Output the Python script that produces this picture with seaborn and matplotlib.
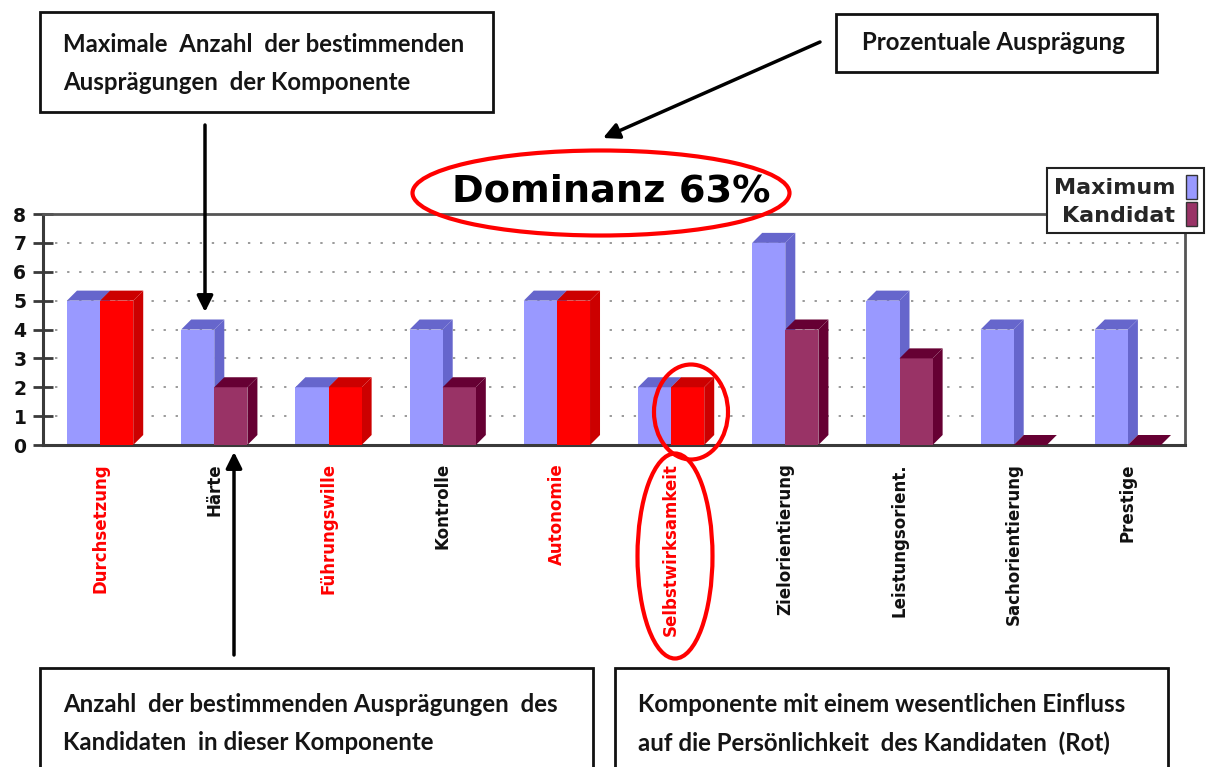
import numpy as np
import pandas as pd
import matplotlib
matplotlib.use("Agg")
import matplotlib.pyplot as plt
import seaborn as sns
from matplotlib.patches import Polygon, Rectangle, Ellipse, Patch

# ---------------- data ----------------
categories = ["Durchsetzung", "Härte", "Führungswille", "Kontrolle", "Autonomie",
              "Selbstwirksamkeit", "Zielorientierung", "Leistungsorient.",
              "Sachorientierung", "Prestige"]
maximum = [5, 4, 2, 4, 5, 2, 7, 5, 4, 4]
kandidat = [5, 2, 2, 2, 5, 2, 4, 3, 0, 0]
highlight = [True, False, True, False, True, True, False, False, False, False]
series_names = ["Maximum", "Kandidat"]
y_ticks = [0, 1, 2, 3, 4, 5, 6, 7, 8]
title_text = "Dominanz 63%"
box1_lines = ["Maximale  Anzahl  der bestimmenden", "Ausprägungen  der Komponente"]
box2_lines = ["Prozentuale Ausprägung"]
box3_lines = ["Anzahl  der bestimmenden Ausprägungen  des", "Kandidaten  in dieser Komponente"]
box4_lines = ["Komponente mit einem wesentlichen Einfluss", "auf die Persönlichkeit  des Kandidaten  (Rot)"]

# ---------------- style ----------------
sns.set_theme(style="white")
plt.rcParams["font.family"] = ["DejaVu Sans"]

W, H = 1208, 767
fig = plt.figure(figsize=(W / 100, H / 100), dpi=100)
fig.patch.set_facecolor("white")

ax_l, ax_r, ax_t, ax_b = 43, 1185, 214, 445
ax = fig.add_axes([ax_l / W, 1 - ax_b / H, (ax_r - ax_l) / W, (ax_b - ax_t) / H])

df = pd.DataFrame({
    "Komponente": categories * 2,
    "Wert": maximum + kandidat,
    "Serie": [series_names[0]] * len(categories) + [series_names[1]] * len(categories),
})

front_max, dark_max = "#9999FF", "#6666CC"
front_kan, dark_kan = "#993366", "#660033"
front_red, dark_red = "#FF0000", "#CC0000"

sns.barplot(data=df, x="Komponente", y="Wert", hue="Serie", order=categories,
            hue_order=series_names,
            palette={series_names[0]: front_max, series_names[1]: front_kan},
            width=0.58, gap=0, saturation=1, legend=False, errorbar=None,
            linewidth=0, ax=ax)

ax.set_xlim(-0.5, len(categories) - 0.5)
ax.set_ylim(0, 8)

# pixel -> data units for 3D depth
ppx = (ax_r - ax_l) / len(categories)
ppy = (ax_b - ax_t) / 8
dxu, dyu = 10 / ppx, 10 / ppy

for ci, cont in enumerate(ax.containers):
    for bi, bar in enumerate(cont.patches):
        x0 = bar.get_x()
        w = bar.get_width()
        h = bar.get_height()
        x1 = x0 + w
        if ci == 0:
            fc, dc, z = front_max, dark_max, 2
        else:
            if highlight[bi]:
                fc, dc = front_red, dark_red
            else:
                fc, dc = front_kan, dark_kan
            z = 3
        bar.set_facecolor(fc)
        bar.set_edgecolor("none")
        bar.set_zorder(z)
        top = Polygon([(x0, h), (x0 + dxu, h + dyu), (x1 + dxu, h + dyu), (x1, h)],
                      closed=True, facecolor=dc, edgecolor="none", zorder=z)
        side = Polygon([(x1, 0), (x1 + dxu, dyu), (x1 + dxu, h + dyu), (x1, h)],
                       closed=True, facecolor=dc, edgecolor="none", zorder=z - 0.1)
        ax.add_patch(side)
        ax.add_patch(top)

# grid
for yv in y_ticks[1:-1]:
    ax.axhline(yv, color="#9a9a9a", lw=1.4, ls=(0, (1.2, 5)), zorder=0.5)

# spines
for s in ["left", "bottom"]:
    ax.spines[s].set_color("#3a3a3a")
    ax.spines[s].set_linewidth(2.2)
for s in ["top", "right"]:
    ax.spines[s].set_color("#555555")
    ax.spines[s].set_linewidth(2.0)

# ticks
ax.set_xticks(range(len(categories)))
ax.set_xticklabels(categories, rotation=90, fontsize=12, fontweight="bold")
for lbl, hl in zip(ax.get_xticklabels(), highlight):
    lbl.set_color("#FF0000" if hl else "#111111")
ax.set_xticks(np.arange(0.5, len(categories) - 1, 1), minor=True)
ax.tick_params(axis="x", which="major", length=0, pad=13)
ax.tick_params(axis="x", which="minor", direction="inout", length=13, width=2, color="#3a3a3a")
ax.set_yticks(y_ticks)
ax.set_yticklabels([str(v) for v in y_ticks], fontsize=13.5, fontweight="bold",
                   color="#111111")
ax.tick_params(axis="y", direction="inout", length=14, width=2, color="#3a3a3a", pad=5,
               left=True)
ax.set_xlabel("")
ax.set_ylabel("")

# legend
handles = [Patch(facecolor=front_max, edgecolor="#333333", linewidth=1),
           Patch(facecolor=front_kan, edgecolor="#333333", linewidth=1)]
leg = fig.legend(handles=handles, labels=series_names, loc="upper left",
                 bbox_to_anchor=(1047 / W, 1 - 168 / H), markerfirst=False,
                 frameon=True, fancybox=False, edgecolor="#222222", framealpha=1,
                 handlelength=0.5, handleheight=1.3, handletextpad=0.5,
                 labelspacing=0.15, borderpad=0.3, borderaxespad=0,
                 prop={"weight": "bold", "size": 16})
leg.get_frame().set_linewidth(1.5)
leg.set_zorder(20)

# ---------------- overlay annotations (pixel coordinates) ----------------
ov = fig.add_axes([0, 0, 1, 1], zorder=10)
ov.set_xlim(0, W)
ov.set_ylim(H, 0)
ov.axis("off")
ov.patch.set_alpha(0)

ov.text(611, 192, title_text, ha="center", va="center", fontsize=27.5,
        fontweight="bold", color="black", family="DejaVu Sans")
ov.add_patch(Ellipse((601, 193), 377, 85, fill=False, ec="#FF0000", lw=3))
ov.add_patch(Ellipse((691, 412), 74, 95, fill=False, ec="#FF0000", lw=3))
ov.add_patch(Ellipse((675, 556), 75, 205, fill=False, ec="#FF0000", lw=3))

def box(x0, y0, x1, y1, lines, tx, ty, dy):
    ov.add_patch(Rectangle((x0, y0), x1 - x0, y1 - y0, facecolor="white",
                           edgecolor="#111111", lw=2))
    for i, t in enumerate(lines):
        ov.text(tx, ty + i * dy, t, ha="left", va="center", fontsize=17.3,
                fontweight="bold", color="#151515", family="Lato")

box(40, 12, 493, 112, box1_lines, 63, 45, 37)
box(836, 14, 1157, 72, box2_lines, 862, 43, 0)
box(40, 668, 593, 790, box3_lines, 63, 704, 39)
box(615, 668, 1168, 790, box4_lines, 638, 704, 39)

arrow_kw = dict(arrowstyle="-|>", lw=2.5, color="black", mutation_scale=24,
                shrinkA=0, shrinkB=0)
ov.annotate("", xy=(205, 312), xytext=(205, 125), arrowprops=arrow_kw)
ov.annotate("", xy=(603, 138), xytext=(820, 42), arrowprops=arrow_kw)
ov.annotate("", xy=(234, 452), xytext=(234, 655), arrowprops=arrow_kw)

fig.savefig("out.png", dpi=100, facecolor="white")
